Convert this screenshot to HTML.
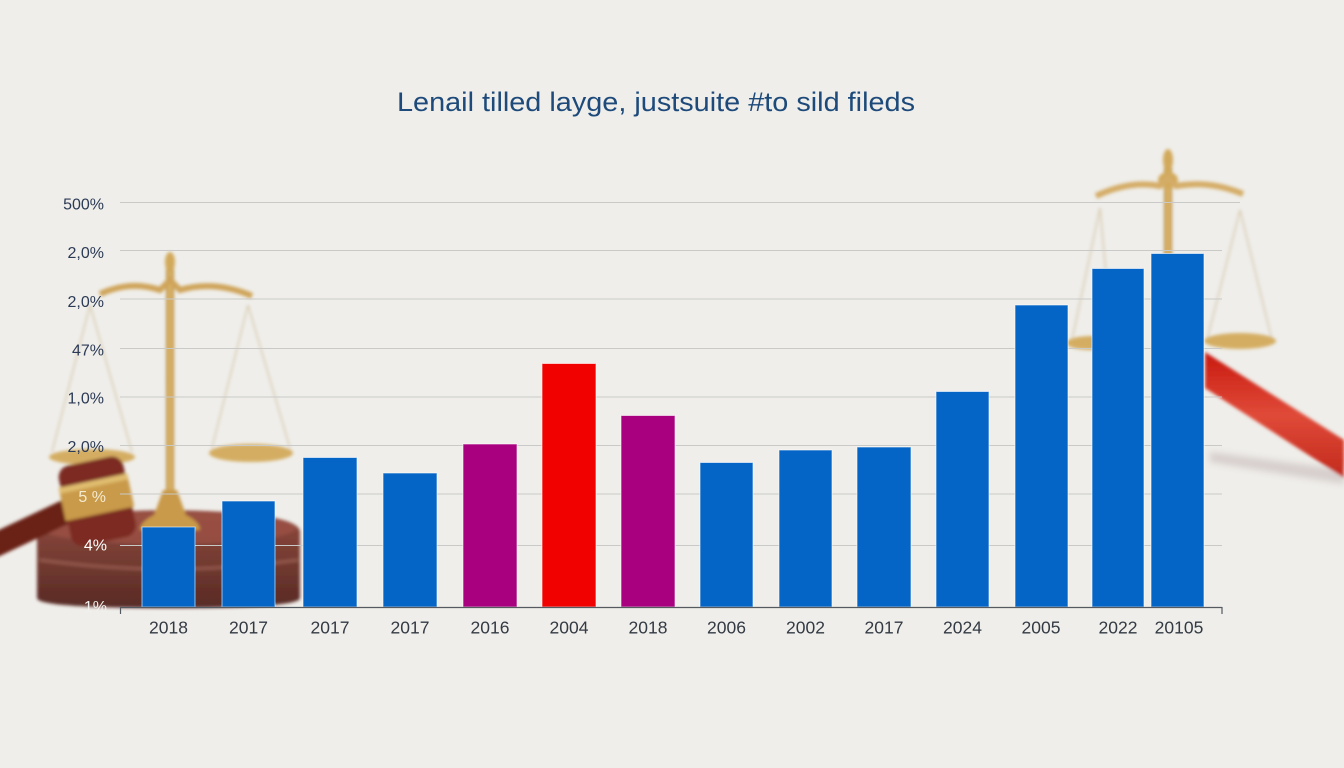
<!DOCTYPE html>
<html><head><meta charset="utf-8"><style>
html,body{margin:0;padding:0;background:#efeeea;}
svg{display:block;}
text{font-family:"Liberation Sans",sans-serif;}
</style></head><body>
<svg width="1344" height="768" viewBox="0 0 1344 768" xmlns="http://www.w3.org/2000/svg">
<defs>
<filter id="b1" x="-20%" y="-20%" width="140%" height="140%"><feGaussianBlur stdDeviation="1.6"/></filter>
<filter id="b2" x="-20%" y="-20%" width="140%" height="140%"><feGaussianBlur stdDeviation="3"/></filter>
<linearGradient id="gold" x1="0" x2="1" y1="0" y2="0"><stop offset="0" stop-color="#b88a3c"/><stop offset="0.5" stop-color="#e2bd72"/><stop offset="1" stop-color="#b88a3c"/></linearGradient>
<linearGradient id="wood" x1="0" x2="0" y1="0" y2="1"><stop offset="0" stop-color="#8a3d30"/><stop offset="1" stop-color="#4b1a14"/></linearGradient>
<linearGradient id="redh" x1="0" x2="0" y1="0" y2="1"><stop offset="0" stop-color="#c81a10"/><stop offset="0.5" stop-color="#e04a38"/><stop offset="1" stop-color="#c22a1c"/></linearGradient>
</defs>
<rect width="1344" height="768" fill="#efeeea"/>

<!-- Left decoration -->
<g filter="url(#b1)">
  <!-- sound block -->
  <path d="M37,532 Q37,512 168,510 Q300,512 300,532 L300,598 Q300,608 168,608 Q37,608 37,598 Z" fill="url(#wood)" opacity="0.92"/>
  <ellipse cx="168" cy="528" rx="128" ry="16" fill="#9a5044" opacity="0.85"/>
  <path d="M40,560 Q168,578 298,560" fill="none" stroke="#a86a5e" stroke-width="3" opacity="0.6"/>
  <!-- strings -->
  <line x1="90" y1="305" x2="52" y2="452" stroke="#d9ccb4" stroke-width="1.5"/>
  <line x1="90" y1="305" x2="132" y2="452" stroke="#d9ccb4" stroke-width="1.5"/>
  <line x1="248" y1="305" x2="212" y2="448" stroke="#d9ccb4" stroke-width="1.5"/>
  <line x1="248" y1="305" x2="290" y2="448" stroke="#d9ccb4" stroke-width="1.5"/>
  <!-- post -->
  <rect x="166" y="268" width="8" height="240" fill="url(#gold)"/>
  <ellipse cx="170" cy="262" rx="5" ry="10" fill="#d2a95a"/>
  <path d="M100,294 Q130,280 160,290 L170,280 L180,290 Q215,280 252,296" fill="none" stroke="#cfa45a" stroke-width="6"/>
  <!-- foot -->
  <path d="M163,490 L177,490 L186,515 Q200,522 200,530 L140,530 Q140,522 154,515 Z" fill="#c99a4a"/>
  <!-- pans -->
  <ellipse cx="92" cy="457" rx="43" ry="8" fill="#d4ad62"/>
  <ellipse cx="251" cy="453" rx="42" ry="9" fill="#d4ad62"/>
  <!-- gavel handle -->
  <line x1="-5" y1="545" x2="80" y2="505" stroke="#6a2318" stroke-width="24" stroke-linecap="round"/>
  <!-- gavel head -->
  <g transform="rotate(-12 98 500)">
    <rect x="64" y="460" width="66" height="82" rx="12" fill="#7c2c20"/>
    <rect x="62" y="480" width="70" height="34" fill="#c99a48"/>
    <rect x="62" y="480" width="70" height="6" fill="#e0bd70"/>
  </g>
</g>

<!-- Right decoration -->
<g filter="url(#b1)">
  <line x1="1100" y1="208" x2="1072" y2="340" stroke="#d9ccb4" stroke-width="1.5"/>
  <line x1="1100" y1="208" x2="1112" y2="340" stroke="#d9ccb4" stroke-width="1.5"/>
  <line x1="1240" y1="210" x2="1207" y2="340" stroke="#d9ccb4" stroke-width="1.5"/>
  <line x1="1240" y1="210" x2="1272" y2="340" stroke="#d9ccb4" stroke-width="1.5"/>
  <rect x="1164" y="165" width="8" height="190" fill="url(#gold)"/>
  <ellipse cx="1168" cy="160" rx="5" ry="11" fill="#d2a95a"/>
  <ellipse cx="1168" cy="180" rx="10" ry="8" fill="#d2a95a"/>
  <path d="M1096,196 Q1130,180 1160,186 L1168,178 L1176,186 Q1210,180 1243,194" fill="none" stroke="#d4ac66" stroke-width="6"/>
  <ellipse cx="1092" cy="343" rx="26" ry="7" fill="#d4ad62"/>
  <ellipse cx="1240" cy="341" rx="36" ry="8" fill="#d4ad62"/>
  <!-- shadow -->
  <path d="M1210,452 L1344,470 L1344,484 L1210,462 Z" fill="#d6cfcc" filter="url(#b2)"/>
  <!-- red handle -->
  <polygon points="1205,352 1344,440 1344,478 1205,388" fill="url(#redh)"/>
</g>

<!-- Title -->
<text x="397" y="111" font-size="27" fill="#1d4a7a" textLength="518" lengthAdjust="spacingAndGlyphs">Lenail tilled layge, justsuite #to sild fileds</text>

<!-- Gridlines -->
<g stroke="#c9c9c7" stroke-width="1">
  <line x1="120" y1="202.5" x2="1240" y2="202.5"/>
  <line x1="120" y1="250.5" x2="1222" y2="250.5"/>
  <line x1="120" y1="299" x2="1222" y2="299"/>
  <line x1="120" y1="348.5" x2="1222" y2="348.5"/>
  <line x1="120" y1="397" x2="1222" y2="397"/>
  <line x1="120" y1="445.5" x2="1222" y2="445.5"/>
  <line x1="120" y1="494" x2="1222" y2="494"/>
  <line x1="120" y1="545.5" x2="1222" y2="545.5"/>
</g>

<!-- Bars -->
<g stroke="rgba(255,255,255,0.6)" stroke-width="1">
  <rect x="142" y="527" width="53" height="80" fill="#0565c6"/>
  <rect x="222" y="501" width="53" height="106" fill="#0565c6"/>
  <rect x="303" y="457.5" width="54" height="149.5" fill="#0565c6"/>
  <rect x="383" y="473" width="54" height="134" fill="#0565c6"/>
  <rect x="463" y="444" width="54" height="163" fill="#a8007e"/>
  <rect x="542" y="363.5" width="54" height="243.5" fill="#f20101"/>
  <rect x="621" y="415.5" width="54" height="191.5" fill="#a8007e"/>
  <rect x="700" y="462.5" width="53" height="144.5" fill="#0565c6"/>
  <rect x="779" y="450" width="53" height="157" fill="#0565c6"/>
  <rect x="857" y="447" width="54" height="160" fill="#0565c6"/>
  <rect x="936" y="391.5" width="53" height="215.5" fill="#0565c6"/>
  <rect x="1015" y="305" width="53" height="302" fill="#0565c6"/>
  <rect x="1092" y="268.5" width="52" height="338.5" fill="#0565c6"/>
  <rect x="1151" y="253.5" width="53" height="353.5" fill="#0565c6"/>
</g>

<!-- Axis -->
<g stroke="#555a60" stroke-width="1.2">
  <line x1="120" y1="607.5" x2="1222" y2="607.5"/>
  <line x1="120.5" y1="607" x2="120.5" y2="614"/>
  <line x1="1222" y1="607" x2="1222" y2="614"/>
</g>

<!-- Y labels -->
<g font-size="16" fill="#2b3a55" text-anchor="end">
  <text x="104" y="209.5">500%</text>
  <text x="104" y="258">2,0%</text>
  <text x="104" y="307">2,0%</text>
  <text x="104" y="355.5">47%</text>
  <text x="104" y="403.5">1,0%</text>
  <text x="104" y="452">2,0%</text>
  <text x="106" y="502" fill="#f4ead0">5 %</text>
  <text x="107" y="550.5" fill="#ffffff">4%</text>
  <text x="107" y="612" fill="#f2f0ee">1%</text>
</g>

<!-- X labels -->
<g font-size="17.5" fill="#333a44" text-anchor="middle">
  <text x="168.5" y="633.5">2018</text>
  <text x="248.5" y="633.5">2017</text>
  <text x="330" y="633.5">2017</text>
  <text x="410" y="633.5">2017</text>
  <text x="490" y="633.5">2016</text>
  <text x="569" y="633.5">2004</text>
  <text x="648" y="633.5">2018</text>
  <text x="726.5" y="633.5">2006</text>
  <text x="805.5" y="633.5">2002</text>
  <text x="884" y="633.5">2017</text>
  <text x="962.5" y="633.5">2024</text>
  <text x="1041" y="633.5">2005</text>
  <text x="1118" y="633.5">2022</text>
  <text x="1179" y="633.5">20105</text>
</g>
</svg>
</body></html>
